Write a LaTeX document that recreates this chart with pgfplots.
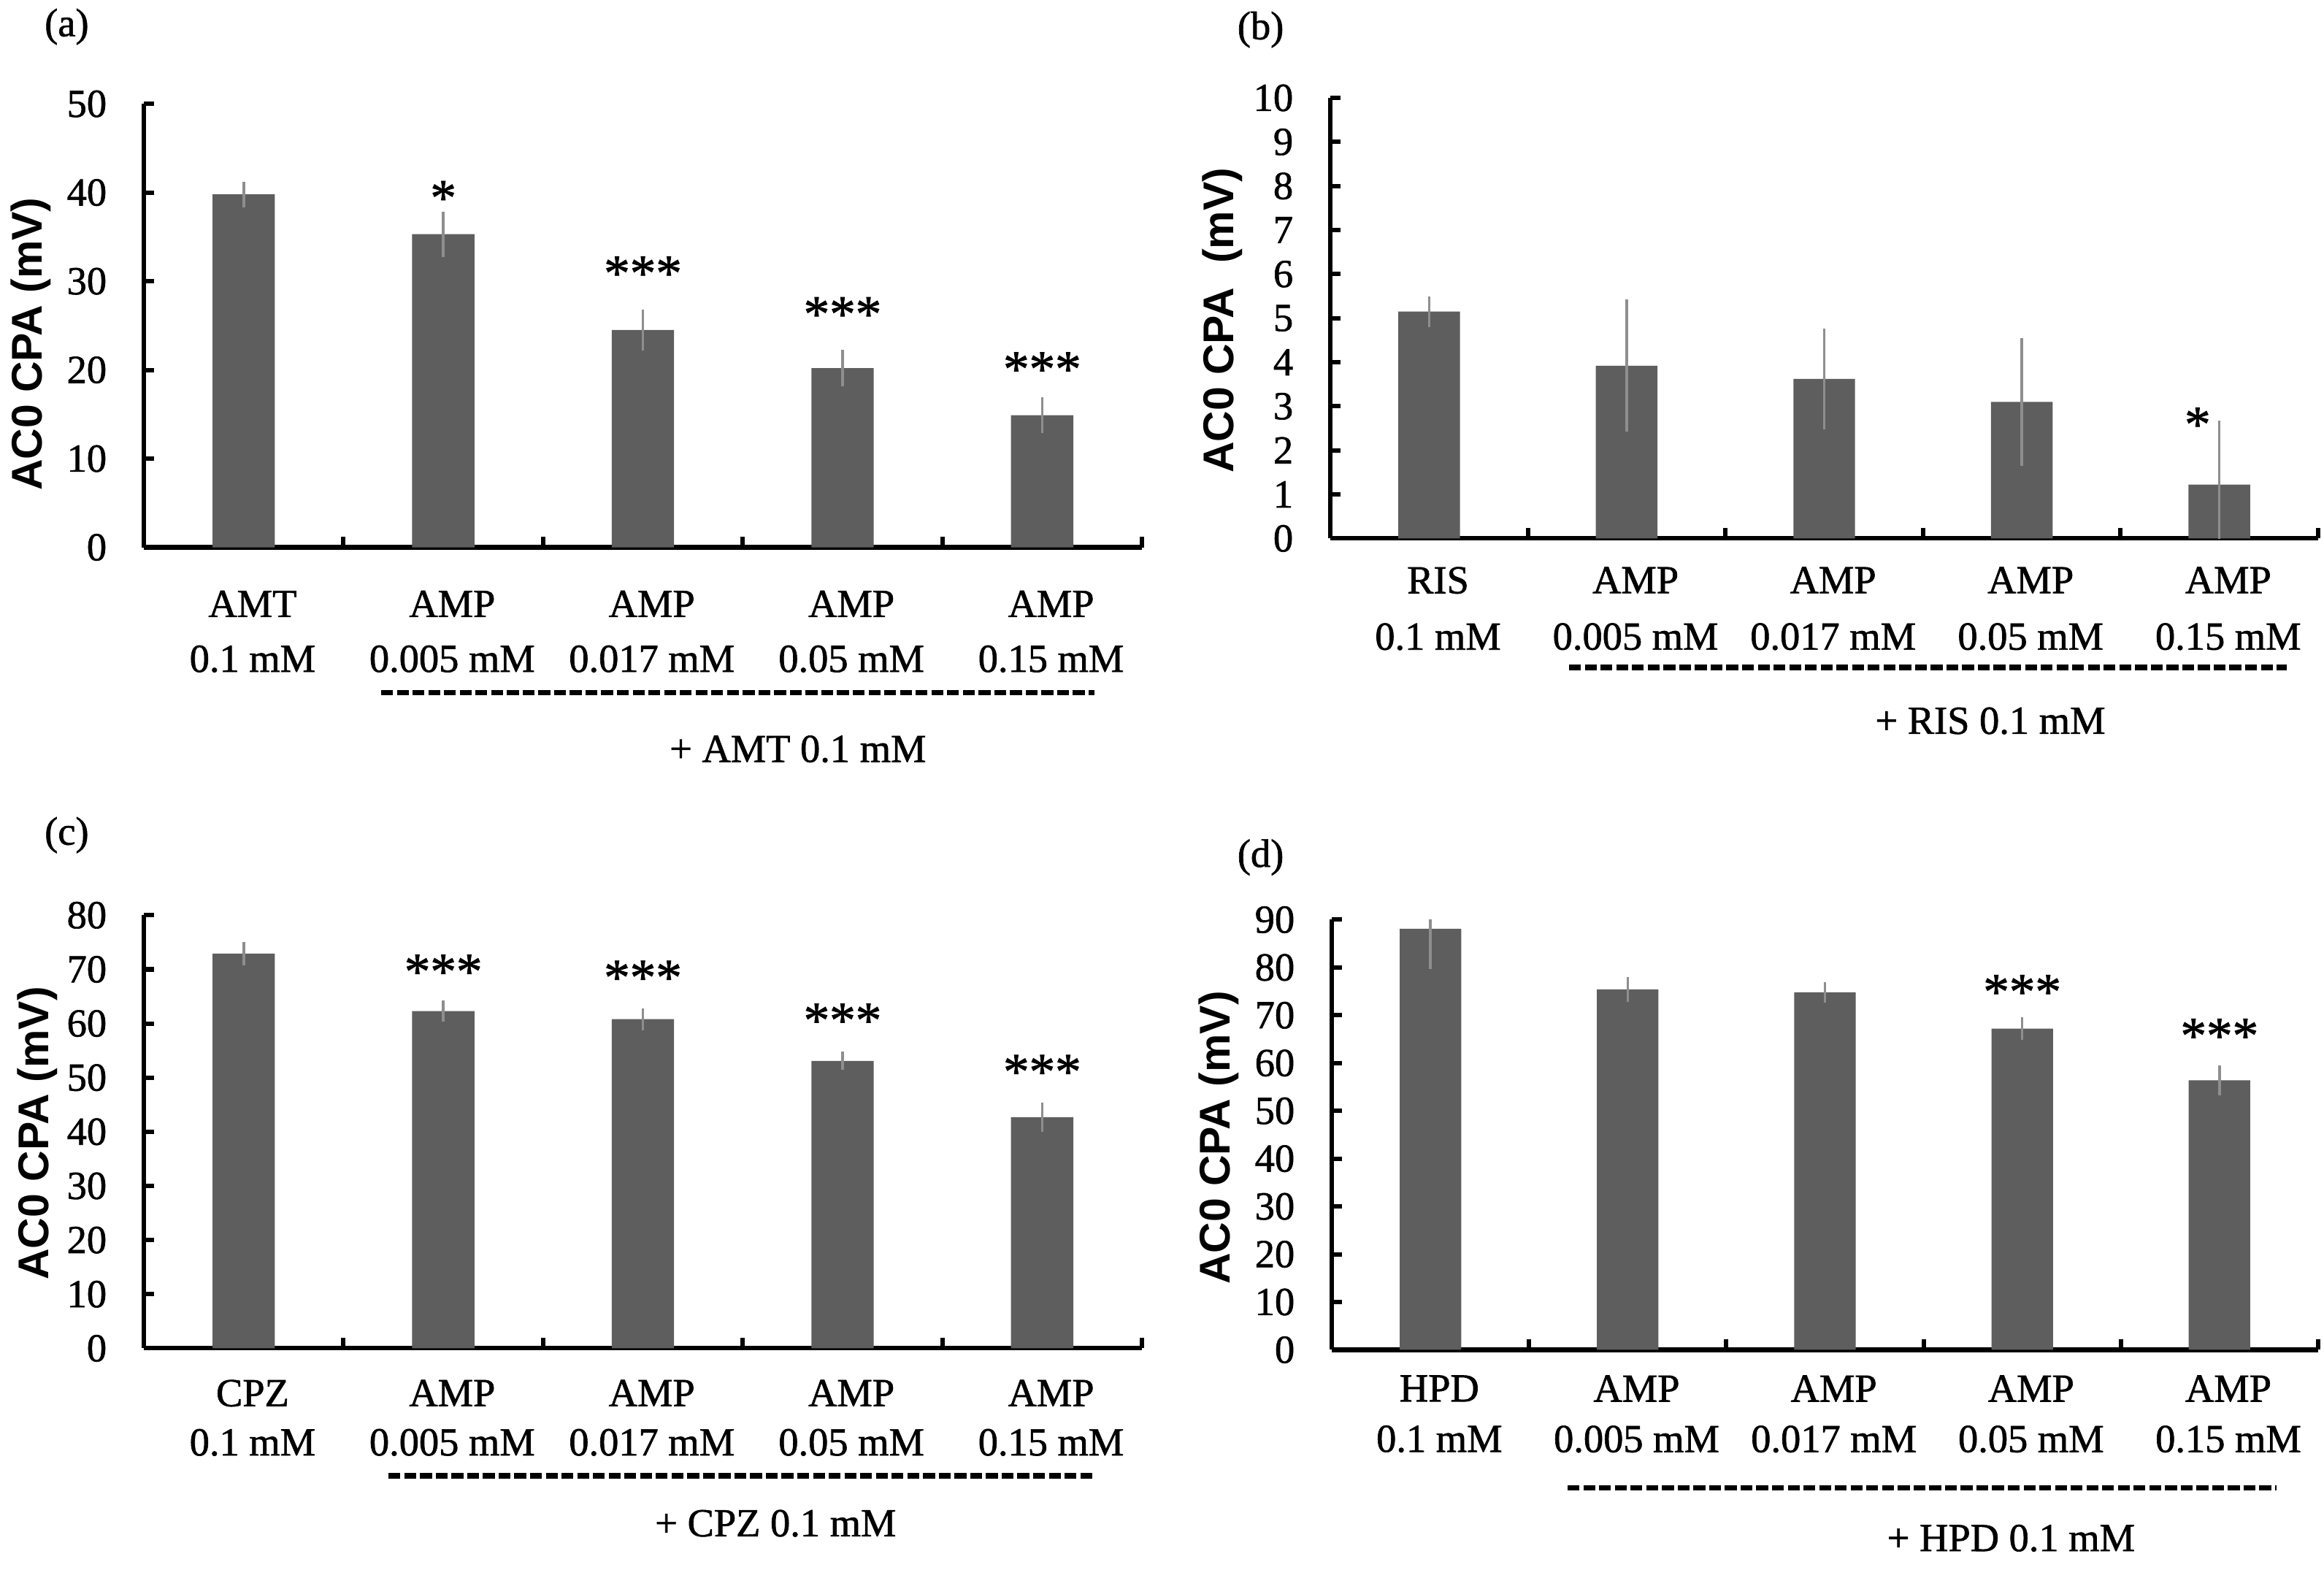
\documentclass[border=0pt]{standalone}
\usepackage{fontspec}
\setmainfont{Liberation Serif}[FakeBold=1.2]
\newfontfamily\sansf{Liberation Sans}
\usepackage{pgfplots}
\pgfplotsset{compat=1.18}
\definecolor{barc}{HTML}{5E5E5E}
\definecolor{errc}{HTML}{8E8E8E}
\pgfplotsset{
  panel/.style n args={3}{
    scale only axis, anchor=south west,
    ybar, bar width=0.312,
    xmin=-0.5, xmax=4.5, ymin=0,
    axis x line*=bottom, axis y line*=left,
    axis line style={line width=1.5pt, black, -},
    xtick={0,1,2,3,4},
    minor xtick={0.5,1.5,2.5,3.5,4.5},
    major x tick style={draw=none},
    minor x tick style={line width=1.5pt, black},
    y tick style={line width=1.5pt, black},
    major tick length=3.5pt, minor tick length=3.5pt,
    tick align=inside,
    xticklabel style={align=center, font=\fontsize{13.4}{#2}\selectfont, yshift=-#1, xshift=3pt},
    yticklabel style={font=\fontsize{13.4}{15}\selectfont, xshift=-9pt},
    /pgf/number format/assume math mode=true,
    ytick distance=#3,
    clip mode=individual,
  },
  errstyle/.style={error bars/.cd, y dir=both, y explicit,
    error bar style={errc, line width=0.9pt},
    error mark options={errc, line width=0.9pt, mark size=2.2pt}},
}
\tikzset{star/.style={font=\fontsize{17.5}{17.5}\selectfont, anchor=base, yshift=-8.2pt, inner sep=0pt},
  grp/.style={line width=1.8pt, dash pattern=on 4pt off 1.3pt}}
\begin{document}
\begin{tikzpicture}
\path[use as bounding box] (0,0) rectangle (783.5pt,-529pt);
% ---------- (a) ----------
\begin{axis}[panel={11.1pt}{18.5pt}{10}, at={(48.5pt,-184.5pt)}, width=336.5pt, height=149.5pt,
  ymax=50,
  xticklabels={{AMT\\0.1 mM},{AMP\\0.005 mM},{AMP\\0.017 mM},{AMP\\0.05 mM},{AMP\\0.15 mM}}]
\addplot[fill=barc, draw=none, errstyle] table[x=x, y=y, y error=e] {
x y e
0 39.8 0.7
1 35.3 1.8
2 24.5 1.6
3 20.2 1.3
4 14.9 1.3
};
\node[star] at (axis cs:1,40.2) {*};
\node[star] at (axis cs:2,31.7) {***};
\node[star] at (axis cs:3,27.1) {***};
\node[star] at (axis cs:4,20.9) {***};
\end{axis}
% ---------- (b) ----------
\begin{axis}[panel={6.1pt}{19pt}{1}, at={(448.5pt,-181.5pt)}, width=333pt, height=148.5pt,
  ymax=10,
  xticklabels={{RIS\\0.1 mM},{AMP\\0.005 mM},{AMP\\0.017 mM},{AMP\\0.05 mM},{AMP\\0.15 mM}}]
\addplot[fill=barc, draw=none, errstyle] table[x=x, y=y, y error=e] {
x y e
0 5.15 0.2
1 3.92 1.35
2 3.62 1.0
3 3.10 1.3
4 1.22 1.3
};
\node[star] at (axis cs:3.89,2.75) {*};
\end{axis}
% ---------- (c) ----------
\begin{axis}[panel={7.1pt}{16.6pt}{10}, at={(48.5pt,-454.5pt)}, width=336.5pt, height=146pt,
  ymax=80,
  xticklabels={{CPZ\\0.1 mM},{AMP\\0.005 mM},{AMP\\0.017 mM},{AMP\\0.05 mM},{AMP\\0.15 mM}}]
\addplot[fill=barc, draw=none, errstyle] table[x=x, y=y, y error=e] {
x y e
0 72.9 0.9
1 62.3 0.7
2 60.8 0.8
3 53.1 0.5
4 42.7 1.5
};
\node[star] at (axis cs:1,70.9) {***};
\node[star] at (axis cs:2,69.8) {***};
\node[star] at (axis cs:3,61.9) {***};
\node[star] at (axis cs:4,52.4) {***};
\end{axis}
% ---------- (d) ----------
\begin{axis}[panel={5.1pt}{17pt}{10}, at={(449pt,-455pt)}, width=332.5pt, height=145pt,
  ymax=90,
  xticklabels={{HPD\\0.1 mM},{AMP\\0.005 mM},{AMP\\0.017 mM},{AMP\\0.05 mM},{AMP\\0.15 mM}}]
\addplot[fill=barc, draw=none, errstyle] table[x=x, y=y, y error=e] {
x y e
0 88.1 7.0
1 75.4 1.3
2 74.8 0.8
3 67.2 1.0
4 56.4 1.8
};
\node[star] at (axis cs:3,76.4) {***};
\node[star] at (axis cs:4,67.2) {***};
\end{axis}
% ---------- annotations ----------
\begin{scope}[x=0.5pt, y=-0.5pt, every node/.style={font=\fontsize{13.4}{15}\selectfont}]
\node at (45,18) {(a)};
\node at (850,20) {(b)};
\node at (45,563) {(c)};
\node at (850,578) {(d)};
\node[rotate=90, font=\sansf\bfseries\fontsize{14.5}{16}\selectfont] at (21,232) {AC0 CPA (mV)};
\node[rotate=90, font=\sansf\bfseries\fontsize{14.5}{16}\selectfont] at (824,216) {AC0 CPA\ \ (mV)};
\node[rotate=90, font=\sansf\bfseries\fontsize{14.5}{16}\selectfont] at (25,764) {AC0 CPA (mV)};
\node[rotate=90, font=\sansf\bfseries\fontsize{14.5}{16}\selectfont] at (822,767) {AC0 CPA (mV)};
\draw[grp] (257,467) -- (738,467);
\draw[grp] (1058,450) -- (1542,450);
\draw[grp] (262,995) -- (738,995);
\draw[grp] (1057,1003) -- (1535,1003);
\node at (538,505) {+ AMT 0.1 mM};
\node at (1342,486) {+ RIS 0.1 mM};
\node at (523,1027) {+ CPZ 0.1 mM};
\node at (1356,1037) {+ HPD 0.1 mM};
\end{scope}
\end{tikzpicture}
\end{document}
